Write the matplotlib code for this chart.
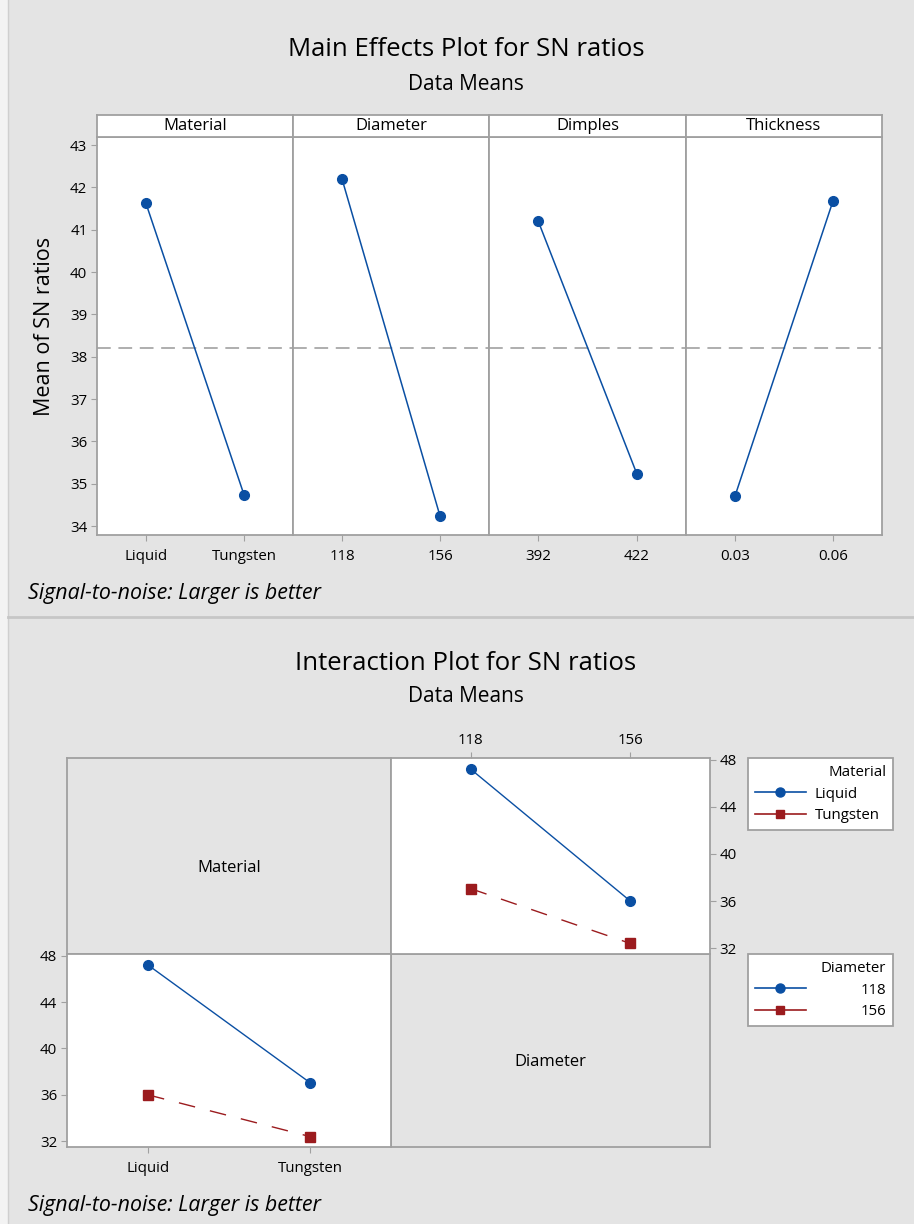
import matplotlib
matplotlib.use("Agg")
import matplotlib.pyplot as plt
from matplotlib.lines import Line2D
import numpy as np

# ---- data ----
materials = ['Liquid', 'Tungsten']
diameters = ['118', '156']
dimples = ['392', '422']
thickness = ['0.03', '0.06']

me_material = [41.62, 34.74]
me_diameter = [42.20, 34.24]
me_dimples = [41.20, 35.24]
me_thickness = [34.71, 41.68]
grand_mean = 38.2

# interaction means, Material x Diameter
sn_liquid = [47.2, 36.0]     # at 118, 156
sn_tungsten = [37.05, 32.4]  # at 118, 156

main_factors = ['Material', 'Diameter', 'Dimples', 'Thickness']
main_levels = [materials, diameters, dimples, thickness]
main_means = [me_material, me_diameter, me_dimples, me_thickness]

W, H = 914, 1224
BG = '#e4e4e4'
BLUE = '#0a4fa3'
RED = '#9b1b1e'
SPINE = '#a0a0a0'
FONT = ['Open Sans', 'DejaVu Sans']
plt.rcParams['font.family'] = FONT

TICK_FS = 10.8
MS_C, MS_S = 7, 6.6

fig = plt.figure(figsize=(W / 100, H / 100), dpi=100)
fig.patch.set_facecolor(BG)


def px_axes(x0, y0, x1, y1, **kw):
    return fig.add_axes([x0 / W, 1 - y1 / H, (x1 - x0) / W, (y1 - y0) / H], **kw)


def ftext(x, y, s, **kw):
    fig.text(x / W, 1 - y / H, s, **kw)


def style_spines(ax):
    for s in ax.spines.values():
        s.set_color(SPINE)
        s.set_linewidth(1.3)


# frame decorations
fig.add_artist(plt.Rectangle((0, 0), 8 / W, 1, transform=fig.transFigure,
                             facecolor='#f3f3f3', edgecolor='none'))
fig.add_artist(Line2D([8 / W, 8 / W], [0, 1], transform=fig.transFigure,
                      color='#cfcfcf', lw=1))
fig.add_artist(Line2D([8 / W, 1], [1 - 617 / H, 1 - 617 / H], transform=fig.transFigure,
                      color='#c6c6c6', lw=2))

# ================= Main effects =================
ftext(466, 50, 'Main Effects Plot for SN ratios', ha='center', va='center', fontsize=18.5)
ftext(466, 85, 'Data Means', ha='center', va='center', fontsize=15)

edges = [97, 293, 489, 686, 882]
for i in range(4):
    ax = px_axes(edges[i], 137, edges[i + 1], 535)
    ax.set_facecolor('white')
    x = np.arange(len(main_levels[i]))
    ax.plot(x, main_means[i], color=BLUE, lw=1.1, marker='o', ms=MS_C, zorder=3)
    ax.axhline(grand_mean, color='#999999', lw=1.1, dashes=(9, 5), zorder=2)
    ax.set_xlim(-0.5, 1.5)
    ax.set_ylim(33.79, 43.19)
    ax.set_xticks(x)
    ax.set_xticklabels(main_levels[i], fontsize=TICK_FS)
    ax.tick_params(axis='x', length=4, color=SPINE, pad=6)
    if i == 0:
        ax.set_yticks(range(34, 44))
        ax.tick_params(axis='y', length=4, color=SPINE, labelsize=TICK_FS, pad=3)
        ax.set_ylabel('Mean of SN ratios', fontsize=15.5)
        ax.yaxis.set_label_coords(-0.215, 0.525)
    else:
        ax.set_yticks([])
    style_spines(ax)
    # strip header
    sax = px_axes(edges[i], 115, edges[i + 1], 137)
    sax.set_facecolor('white')
    sax.set_xticks([])
    sax.set_yticks([])
    style_spines(sax)
    sax.text(0.5, 0.5, main_factors[i], ha='center', va='center', fontsize=12,
             transform=sax.transAxes)

ftext(28, 593, 'Signal-to-noise: Larger is better', ha='left', va='center',
      fontsize=15.4, style='italic')

# ================= Interaction =================
ftext(466, 663, 'Interaction Plot for SN ratios', ha='center', va='center', fontsize=18.5)
ftext(466, 696, 'Data Means', ha='center', va='center', fontsize=15)

ylo, yhi = 31.5, 48.15
xs, ym = [67, 391, 710], [758, 954, 1147]

# diagonal label cells
for (x0, x1, y0, y1, lab) in [(xs[0], xs[1], ym[0], ym[1], 'Material'),
                              (xs[1], xs[2], ym[1], ym[2], 'Diameter')]:
    ax = px_axes(x0, y0, x1, y1)
    ax.set_facecolor(BG)
    ax.set_xticks([])
    ax.set_yticks([])
    style_spines(ax)
    ax.text(0.5, 0.44, lab, ha='center', va='center', fontsize=12, transform=ax.transAxes)

# upper right: x = Diameter, lines = Material
ax_ur = px_axes(xs[1], ym[0], xs[2], ym[1])
x = np.arange(len(diameters))
l_liq, = ax_ur.plot(x, sn_liquid, color=BLUE, lw=1, marker='o', ms=MS_C, label='Liquid')
l_tun, = ax_ur.plot(x, sn_tungsten, color=RED, lw=1, dashes=(12, 11), marker='s', ms=MS_S,
                    label='Tungsten')
ax_ur.set_xlim(-0.5, 1.5)
ax_ur.set_ylim(ylo, yhi)
ax_ur.set_xticks(x)
ax_ur.set_xticklabels(diameters, fontsize=TICK_FS)
ax_ur.set_yticks([32, 36, 40, 44, 48])
ax_ur.tick_params(axis='y', labelsize=TICK_FS, length=4, color=SPINE, left=False,
                  labelleft=False, right=True, labelright=True, pad=3)
ax_ur.tick_params(axis='x', length=4, color=SPINE, bottom=False, labelbottom=False,
                  top=True, labeltop=True, pad=3)
style_spines(ax_ur)

# lower left: x = Material, lines = Diameter
ax_ll = px_axes(xs[0], ym[1], xs[1], ym[2])
x = np.arange(len(materials))
d118 = [sn_liquid[0], sn_tungsten[0]]
d156 = [sn_liquid[1], sn_tungsten[1]]
l_118, = ax_ll.plot(x, d118, color=BLUE, lw=1, marker='o', ms=MS_C, label='118')
l_156, = ax_ll.plot(x, d156, color=RED, lw=1, dashes=(12, 11), marker='s', ms=MS_S,
                    label='156')
ax_ll.set_xlim(-0.5, 1.5)
ax_ll.set_ylim(ylo, yhi)
ax_ll.set_xticks(x)
ax_ll.set_xticklabels(materials, fontsize=TICK_FS)
ax_ll.set_yticks([32, 36, 40, 44, 48])
ax_ll.tick_params(axis='both', labelsize=TICK_FS, length=4, color=SPINE, pad=3)
ax_ll.tick_params(axis='x', pad=6)
style_spines(ax_ll)


def make_legend(handles, title, y_top):
    hs = [Line2D([], [], color=h.get_color(), lw=1.2, marker=h.get_marker(),
                 ms=h.get_markersize() - 0.5) for h in handles]
    leg = fig.legend(hs, [h.get_label() for h in handles], title=title,
                     loc='upper left',
                     bbox_to_anchor=(748 / W, 1 - y_top / H - 0.06, 145 / W, 0.06),
                     mode='expand',
                     frameon=True, fancybox=False, framealpha=1, fontsize=TICK_FS,
                     title_fontsize=TICK_FS, handlelength=3.4, handletextpad=0.6,
                     borderpad=0.45, labelspacing=0.45, borderaxespad=0,
                     alignment='right')
    fr = leg.get_frame()
    fr.set_edgecolor(SPINE)
    fr.set_linewidth(1.3)
    fr.set_facecolor('white')
    return leg


make_legend([l_liq, l_tun], 'Material', 758)
leg_d = make_legend([l_118, l_156], 'Diameter', 954)

# numeric labels in the Diameter legend sit flush right under the title
fig.canvas.draw()
rend = fig.canvas.get_renderer()
title_right = leg_d.get_title().get_window_extent(rend).x1
for t in leg_d.get_texts():
    shift = title_right - t.get_window_extent(rend).x1
    t.set_position((shift, 0))

ftext(28, 1205, 'Signal-to-noise: Larger is better', ha='left', va='center',
      fontsize=15.4, style='italic')

fig.savefig('out.png', dpi=100, facecolor=BG)
